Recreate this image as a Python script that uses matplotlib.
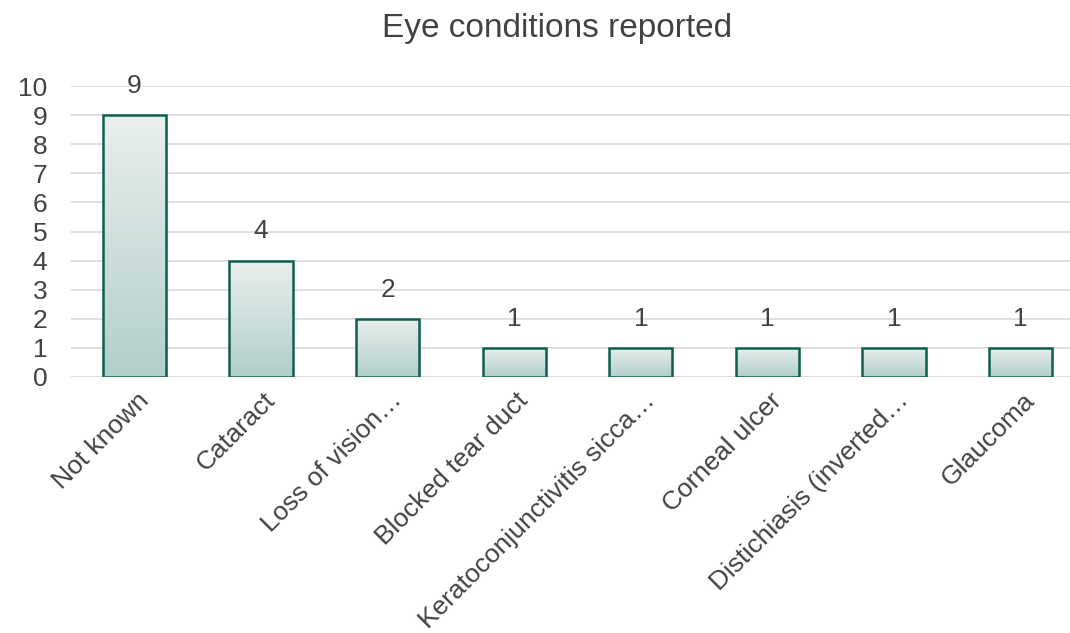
import matplotlib
matplotlib.use("Agg")
import matplotlib.pyplot as plt
import matplotlib.transforms as mtransforms
import numpy as np
from matplotlib.colors import LinearSegmentedColormap

categories = ["Not known", "Cataract", "Loss of vision…", "Blocked tear duct",
              "Keratoconjunctivitis sicca…", "Corneal ulcer", "Distichiasis (inverted…", "Glaucoma"]
values = [9, 4, 2, 1, 1, 1, 1, 1]
yticks = list(range(0, 11))

plt.rcParams['font.family'] = ['Liberation Sans', 'DejaVu Sans']
text_col = "#3f4443"

fig = plt.figure(figsize=(10.70, 6.33), dpi=100)
W, H = 1070, 633
x0, x1 = 71, 1084
y0, y1 = 377, 86
ax = fig.add_axes([x0 / W, 1 - y0 / H, (x1 - x0) / W, (y0 - y1) / H])
ax.set_xlim(-0.5, len(categories) - 0.5)
ax.set_ylim(0, 10)

for t in yticks:
    ax.axhline(t, color="#d9d9d9", lw=1.2, zorder=0)

cmap = LinearSegmentedColormap.from_list("g", ["#b2cfcb", "#e9efed"])
grad = np.linspace(0, 1, 256).reshape(-1, 1)
bw = 0.5
x = np.arange(len(categories))
bars = ax.bar(x, values, width=bw, facecolor="none", edgecolor="#0f5f50", linewidth=1.8, zorder=3)
for b in bars:
    bx, by = b.get_x(), b.get_y()
    w, h = b.get_width(), b.get_height()
    ax.bar(bx + w / 2 + 0.015, h, width=w, bottom=-0.06, color="#cccccc", alpha=0.5, zorder=1, lw=0)
    im = ax.imshow(grad, cmap=cmap, origin="lower", aspect="auto",
                   extent=[bx, bx + w, by, by + h], zorder=2)
    im.set_clip_path(b)

for xi, v in zip(x, values):
    ax.text(xi, v + 1.0, str(v), ha="center", va="center", fontsize=19, color=text_col)

ax.set_xlim(-0.5, len(categories) - 0.5)
ax.set_ylim(0, 10)
ax.set_yticks(yticks)
ax.set_yticklabels([str(t) for t in yticks], fontsize=19, color=text_col)
ax.set_xticks(x)
ax.set_xticklabels(categories, rotation=45, ha="right", rotation_mode="anchor",
                   fontsize=19, color=text_col)
ax.tick_params(axis="y", length=0, pad=17)
ax.tick_params(axis="x", length=0, pad=8)
offset = mtransforms.ScaledTranslation(2 / 100, 0, fig.dpi_scale_trans)
for lbl in ax.get_xticklabels():
    lbl.set_transform(lbl.get_transform() + offset)
for s in ax.spines.values():
    s.set_visible(False)

fig.text(557 / W, 1 - 28 / H, "Eye conditions reported", ha="center", va="center",
         fontsize=24, color=text_col)

fig.savefig("out.png", dpi=100)
